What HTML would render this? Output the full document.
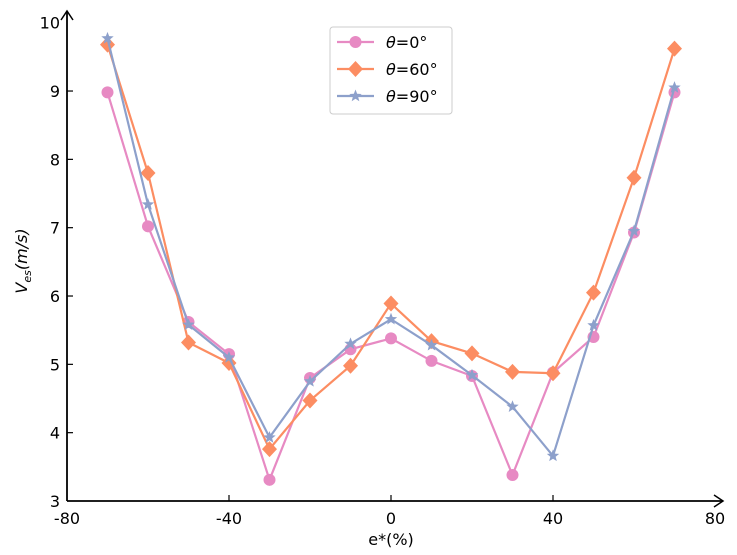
<!DOCTYPE html>
<html><head><meta charset="utf-8"><style>
body{margin:0;background:#fff}
svg text{font-family:"DejaVu Sans","Liberation Sans",sans-serif;fill:#000}
</style></head><body>
<svg id="chart" width="737" height="550" viewBox="0 0 737 550" xmlns="http://www.w3.org/2000/svg"></svg>
<script>
const xValues=[-70,-60,-50,-40,-30,-20,-10,0,10,20,30,40,50,60,70];
const seriesTheta0=[8.98,7.02,5.62,5.15,3.31,4.80,5.22,5.38,5.05,4.83,3.38,4.88,5.40,6.93,8.98];
const seriesTheta60=[9.68,7.80,5.32,5.02,3.76,4.47,4.98,5.89,5.34,5.16,4.89,4.87,6.05,7.73,9.62];
const seriesTheta90=[9.77,7.34,5.58,5.10,3.93,4.75,5.30,5.66,5.28,4.84,4.38,3.66,5.57,6.95,9.05];
const xTicks=[-80,-40,0,40,80];
const yTicks=[3,4,5,6,7,8,9,10];
const seriesNames=["θ=0°","θ=60°","θ=90°"];

const NS="http://www.w3.org/2000/svg";
const svg=document.getElementById('chart');
const X0=67,X1=715,Y0=501,Y1=22.7;
function xs(v){return X0+(v+80)/160*(X1-X0);}
function ys(v){return Y0-(v-3)/7*(Y0-Y1);}
function mk(tag,attrs,parent){const e=document.createElementNS(NS,tag);for(const k in attrs)e.setAttribute(k,attrs[k]);(parent||svg).appendChild(e);return e;}

// axes
const axes=mk('g',{});


const xa=mk('line',{x1:X0,y1:Y0,x2:722,y2:Y0,stroke:'#000','stroke-width':1.8},axes);


mk('path',{d:`M714,495 L723,501 L714,507`,fill:'none',stroke:'#000','stroke-width':1.5},axes);
const ya=mk('line',{x1:X0,y1:Y0,x2:X0,y2:12,stroke:'#000','stroke-width':1.8},axes);


mk('path',{d:`M61,20 L67,11 L73,20`,fill:'none',stroke:'#000','stroke-width':1.5},axes);
xTicks.forEach(t=>{
  const x=xs(t);
  if(t>-80&&t<80)mk('line',{x1:x,y1:Y0,x2:x,y2:Y0-6,stroke:'#000','stroke-width':1.2},axes);
  const tx=mk('text',{x:x,y:524,'text-anchor':'middle','font-size':16},axes);
  tx.textContent=t;
  
  
});
yTicks.forEach(t=>{
  const y=ys(t);
  if(t>3&&t<10)mk('line',{x1:X0,y1:y,x2:X0+6,y2:y,stroke:'#000','stroke-width':1.2},axes);
  const tx=mk('text',{x:60,y:y+6,'text-anchor':'end','font-size':16},axes);
  tx.textContent=t;
  
  
});
const xt=mk('text',{x:391,y:545,'text-anchor':'middle','font-size':16});
xt.textContent='e*(%)';


const yt=mk('text',{x:0,y:0,'text-anchor':'middle','font-size':16,transform:'translate(27,261) rotate(-90)'});
yt.innerHTML='<tspan font-style="italic">V</tspan><tspan font-style="italic" font-size="11" dy="4">es</tspan><tspan dy="-4" font-style="italic">(m/s)</tspan>';



function marker(type,x,y,color,g){
  if(type==='circle')return mk('circle',{cx:x,cy:y,r:6,fill:color},g);
  if(type==='diamond')return mk('path',{d:`M${x},${y-8} L${x+7.5},${y} L${x},${y+8} L${x-7.5},${y}Z`,fill:color},g);
  const p=[];for(let i=0;i<10;i++){const r=i%2?2.8:6.5,a=-Math.PI/2+i*Math.PI/5;p.push((x+r*Math.cos(a)).toFixed(2)+','+(y+r*Math.sin(a)).toFixed(2));}
  return mk('polygon',{points:p.join(' '),fill:color},g);
}
const series=[[seriesTheta0,'#e78ac3','circle','series-theta-0'],[seriesTheta60,'#fc8d62','diamond','series-theta-60'],[seriesTheta90,'#8da0cb','star','series-theta-90']];
series.forEach(([vals,color,type,name])=>{
  const g=mk('g',{});
  
  
  const pl=mk('polyline',{points:vals.map((v,i)=>xs(xValues[i])+','+ys(v)).join(' '),fill:'none',stroke:color,'stroke-width':2.2},g);
  
  
  vals.forEach((v,i)=>{const m=marker(type,xs(xValues[i]),ys(v),color,g);
    
    });
});
// legend
const lg=mk('g',{});


mk('rect',{x:330,y:27,width:122,height:87,rx:3,fill:'#fff',stroke:'#ccc','stroke-width':1},lg);
series.forEach(([vals,color,type],i)=>{
  const y=42+i*27;
  const e=mk('g',{},lg);
  
  
  mk('line',{x1:337,y1:y,x2:374,y2:y,stroke:color,'stroke-width':2.2},e);
  marker(type,355.5,y,color,e);
  const t=mk('text',{x:386,y:y+6,'font-size':16},e);
  t.innerHTML='<tspan font-style="italic">θ</tspan>'+seriesNames[i].slice(1);
});
</script>
</body></html>
